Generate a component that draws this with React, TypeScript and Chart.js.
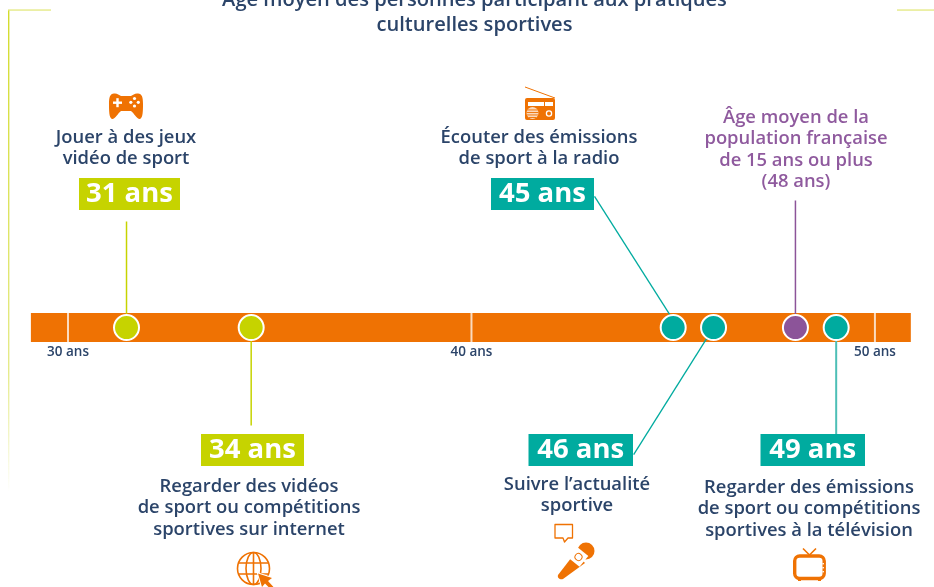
import React, { useEffect, useRef } from "react";
import { Chart, registerables } from "chart.js";

Chart.register(...registerables);

const FONT = '"Open Sans", sans-serif';
const NAVY = "#2b4469";
const ORANGE = "#ef7203";
const LIME = "#c6d300";
const TEAL = "#00ab9f";
const PURPLE = "#8c5499";

const titleLines = ["Âge moyen des personnes participant aux pratiques", "culturelles sportives"];
const tickValues = [30, 40, 50];
const barRange = [29.08, 50.89];
const practiceAges = [31.45, 34.54, 45, 46, 48.03, 49.04];
const pointColors = [LIME, LIME, TEAL, TEAL, PURPLE, TEAL];
// connector: where it meets the timeline, its far end, and the far end's height on the y scale (0 = timeline)
const connectorStartAges = [31.45, 34.54, 45.12, 46, 48.03, 49.04];
const connectorEndAges = [31.45, 34.54, 43.05, 44.02, 48.03, 49.04];
const connectorEndHeights = [105.5, -97.5, 130.5, -126.5, 126.5, -107];
const connectorColors = [LIME, LIME, TEAL, TEAL, PURPLE, "#4dbfb6"];
const connectorWidths = [1.5, 1.5, 1.3, 1.3, 1.5, 2];

const badgeTexts = ["31 ans", "34 ans", "45 ans", "46 ans", "49 ans"];
const badgeBoxes = [
  [79, 178, 101, 32, LIME],
  [201, 434, 103, 32, LIME],
  [491, 178, 103, 32, TEAL],
  [528.5, 434, 104.5, 32, TEAL],
  [760.5, 434, 104.5, 32, TEAL],
];
const captions = [
  { cx: 126, y: 137.5, color: NAVY, lines: ["Jouer à des jeux", "vidéo de sport"] },
  { cx: 539, y: 137.5, color: NAVY, lines: ["Écouter des émissions", "de sport à la radio"] },
  { cx: 796, y: 117.5, color: "#8f5a9e", lines: ["Âge moyen de la", "population française", "de 15 ans ou plus", "(48 ans)"] },
  { cx: 249, y: 486.5, color: NAVY, lines: ["Regarder des vidéos", "de sport ou compétitions", "sportives sur internet"] },
  { cx: 577, y: 484.5, color: NAVY, lines: ["Suivre l’actualité", "sportive"] },
  { cx: 809, y: 487.5, color: NAVY, lines: ["Regarder des émissions", "de sport ou compétitions", "sportives à la télévision"] },
];

function drawIcons(c: CanvasRenderingContext2D) {
  c.save();
  c.fillStyle = ORANGE;
  c.strokeStyle = ORANGE;
  c.lineJoin = "round";
  // gamepad
  c.fill(new Path2D("M114 93.5C110 94 109 97 109 104C109 110 109 118 112 119C115 119.5 118 113 121 111L131 111C134 113 137 119.5 140 119C143 118 143 110 143 104C143 97 142 94 138 93.5C135 93 133 95 131 96L121 96C119 95 117 93 114 93.5Z"));
  c.fillStyle = "#fff";
  c.fillRect(113, 101.5, 9, 2.4);
  c.fillRect(116.3, 98.2, 2.4, 9);
  [[134.5, 98.5], [134.5, 106], [130.8, 102.3], [138.3, 102.3]].forEach(([x, y]) => {
    c.beginPath();
    c.arc(x, y, 1.6, 0, 7);
    c.fill();
  });
  // radio
  c.fillStyle = ORANGE;
  c.lineWidth = 1;
  c.beginPath();
  c.moveTo(525, 87);
  c.lineTo(555, 98);
  c.stroke();
  c.beginPath();
  c.roundRect(525, 98, 30, 22, 2);
  c.fill();
  c.fillStyle = "#fff";
  c.fillRect(528, 102, 16, 4);
  c.fillRect(545, 102, 8, 4);
  c.save();
  c.beginPath();
  c.arc(532.5, 113, 6, 0, 7);
  c.clip();
  c.fillStyle = "#fbd9bd";
  c.fillRect(526, 107, 13, 12);
  c.fillStyle = ORANGE;
  [109.5, 112, 114.5, 117].forEach((y) => c.fillRect(526, y, 13, 0.9));
  c.restore();
  c.strokeStyle = "#fff";
  c.lineWidth = 1.3;
  c.beginPath();
  c.arc(549, 113.5, 2.6, 0, 7);
  c.stroke();
  // globe and cursor
  c.strokeStyle = ORANGE;
  c.lineWidth = 1.6;
  c.beginPath();
  c.arc(253.5, 568.5, 16, 0, 7);
  c.stroke();
  c.beginPath();
  c.ellipse(253.5, 568.5, 7.5, 16, 0, 0, 7);
  c.moveTo(253.5, 552.5);
  c.lineTo(253.5, 584.5);
  c.moveTo(238.5, 563);
  c.lineTo(268.5, 563);
  c.moveTo(238.5, 574);
  c.lineTo(268.5, 574);
  c.stroke();
  const cursor = new Path2D("M258 573.5L272 578L268 581L273.5 587L268.5 587L265 583.5L262 587Z");
  c.strokeStyle = "#fff";
  c.lineWidth = 2;
  c.stroke(cursor);
  c.fillStyle = ORANGE;
  c.fill(cursor);
  // speech bubble
  c.strokeStyle = ORANGE;
  c.lineWidth = 1.3;
  c.stroke(new Path2D("M555 524.5H572.5V538H568L564.5 542L563 538H555Z"));
  // microphone
  c.fill(new Path2D("M575 553L585 563L563 579C560 580 557 578 558 575Z"));
  c.beginPath();
  c.arc(586, 551, 8.5, 0, 7);
  c.fill();
  c.save();
  c.translate(578.5, 557);
  c.rotate(Math.PI / 4 - 0.1);
  c.fillStyle = "#fff";
  c.fillRect(-7, -7, 14, 14);
  c.strokeStyle = ORANGE;
  c.lineWidth = 1;
  c.beginPath();
  c.arc(0, 0, 3.5, 0, 7);
  c.stroke();
  c.restore();
  // television
  c.strokeStyle = ORANGE;
  c.lineWidth = 3.4;
  c.beginPath();
  c.roundRect(794.7, 556, 29.5, 22.5, 5);
  c.stroke();
  c.lineWidth = 1.6;
  c.beginPath();
  c.moveTo(803, 548.5);
  c.lineTo(809.5, 555);
  c.lineTo(816, 548.5);
  c.stroke();
  c.fillRect(798, 579, 3, 2);
  c.fillRect(818, 579, 3, 2);
  c.fillStyle = "#fff";
  [563, 567, 571].forEach((y) => c.fillRect(822.5, y, 1.4, 1.4));
  c.restore();
}

const decorPlugin = {
  id: "decor",
  beforeDatasetsDraw(chart: any) {
    const c: CanvasRenderingContext2D = chart.ctx;
    c.save();
    const fade = c.createLinearGradient(0, 10, 0, 492);
    fade.addColorStop(0, "#d3dc2d");
    fade.addColorStop(0.75, "#e6eb8c");
    fade.addColorStop(1, "rgba(230,235,140,0)");
    c.fillStyle = fade;
    c.fillRect(8, 10, 1.4, 482);
    c.fillStyle = "#e3e87f";
    c.fillRect(8, 9.4, 43, 1.3);
    c.fillRect(897, 9.4, 37, 1.3);
    c.restore();
  },
  afterDraw(chart: any) {
    const c: CanvasRenderingContext2D = chart.ctx;
    c.save();
    c.textAlign = "center";
    c.textBaseline = "middle";
    badgeBoxes.forEach((b: any, i) => {
      c.fillStyle = b[4];
      c.fillRect(b[0], b[1], b[2], b[3]);
      c.fillStyle = "#fff";
      c.font = `700 27.5px ${FONT}`;
      c.fillText(badgeTexts[i], b[0] + b[2] / 2, b[1] + b[3] / 2);
    });
    c.font = `600 18.4px ${FONT}`;
    captions.forEach((cap) => {
      c.fillStyle = cap.color;
      cap.lines.forEach((l, i) => c.fillText(l, cap.cx, cap.y + i * 21.5));
    });
    c.restore();
    drawIcons(c);
  },
};

export default function App() {
  const ref = useRef<HTMLCanvasElement>(null);
  useEffect(() => {
    document.body.style.margin = "0";
    document.body.style.overflow = "hidden";
    const tickLines = tickValues.map((v) => ({
      data: [{ x: v, y: 14.5 }, { x: v, y: -14.5 }],
      borderColor: "rgba(255,255,255,0.75)",
      borderWidth: 2,
      pointRadius: 0,
      showLine: true,
      order: 8,
    }));
    const connectors = connectorStartAges.map((a, i) => ({
      data: [{ x: connectorEndAges[i], y: connectorEndHeights[i] }, { x: a, y: 0 }],
      borderColor: connectorColors[i],
      borderWidth: connectorWidths[i],
      pointRadius: 0,
      showLine: true,
      order: 5,
    }));
    const chart = new Chart(ref.current!, {
      type: "scatter",
      plugins: [decorPlugin],
      data: {
        datasets: [
          {
            data: [{ x: barRange[0], y: 0 }, { x: barRange[1], y: 0 }],
            borderColor: ORANGE,
            borderWidth: 29,
            borderCapStyle: "butt",
            pointRadius: 0,
            showLine: true,
            order: 9,
          },
          ...tickLines,
          ...connectors,
          {
            data: practiceAges.map((a) => ({ x: a, y: 0 })),
            backgroundColor: pointColors,
            borderColor: "#fff",
            borderWidth: 2,
            pointRadius: 12.5,
            showLine: false,
            order: 1,
          },
        ] as any,
      },
      options: {
        responsive: false,
        animation: false,
        layout: { padding: { left: 15 } },
        events: [],
        scales: {
          x: {
            type: "linear",
            min: 28.686,
            max: 51.105,
            position: { y: -13.5 } as any,
            grid: { display: false, drawTicks: false },
            border: { display: false },
            afterBuildTicks: (axis: any) => {
              axis.ticks = tickValues.map((value) => ({ value }));
            },
            ticks: {
              callback: (v: any) => `${v} ans`,
              color: NAVY,
              font: { family: FONT, size: 13.5, weight: 600 as any },
              maxRotation: 0,
              autoSkip: false,
              padding: 3,
            },
          },
          y: { type: "linear", display: false, min: -243.8, max: 288.2 },
        },
        plugins: {
          legend: { display: false },
          tooltip: { enabled: false },
          title: {
            display: true,
            text: titleLines,
            color: NAVY,
            align: "center",
            font: { family: FONT, size: 20.1, weight: 600 as any, lineHeight: "25px" as any },
            padding: { top: -12, bottom: 0 },
          },
        },
      },
    });
    return () => chart.destroy();
  }, []);
  return (
    <canvas
      ref={ref}
      width={934}
      height={587}
      style={{ position: "absolute", left: 0, top: 0, width: 934, height: 587 }}
    />
  );
}
